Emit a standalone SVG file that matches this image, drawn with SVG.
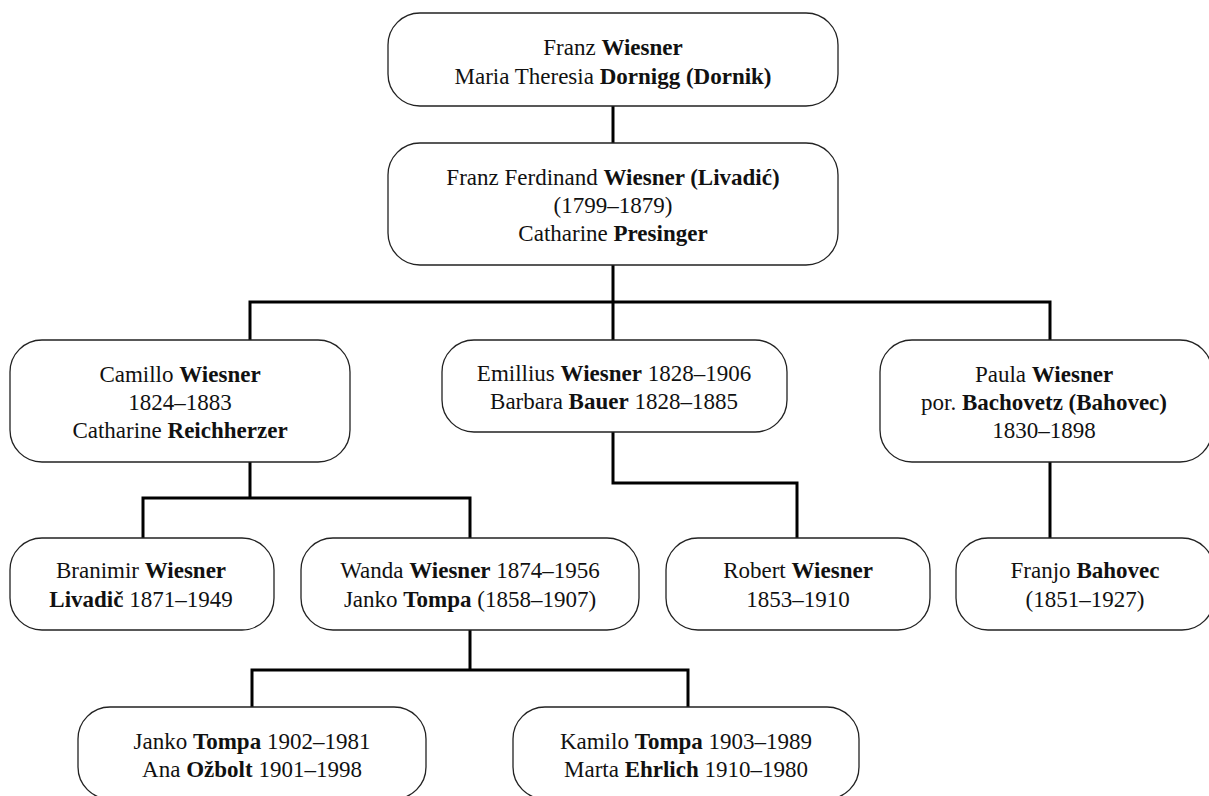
<svg xmlns="http://www.w3.org/2000/svg" width="1209" height="796" viewBox="0 0 1209 796">
<style>
.box{fill:#fff;stroke:#222;stroke-width:1.3}
.t{font-family:"Liberation Serif","Times New Roman",serif;font-size:23px;fill:#111;text-anchor:middle}
.b{font-weight:bold}
.c{fill:none;stroke:#000;stroke-width:3;stroke-linejoin:miter;stroke-linecap:square}
</style>
<rect width="1209" height="796" fill="#fff"/>
<g id="connectors">
<path class="c" d="M613,107V142"/>
<path class="c" d="M613,266V302M250,302H1050M250,302V339M613,302V339M1050,302V339"/>
<path class="c" d="M250,463V498M143,498H470M143,498V537M470,498V537"/>
<path class="c" d="M613,433V483H797V537"/>
<path class="c" d="M1050,463V537"/>
<path class="c" d="M470,631V670M252,670H688M252,670V706M688,670V706"/>
</g>
<g id="n-franz">
<rect class="box" x="388" y="13" width="450" height="93" rx="32"/>
<text class="t" x="613" y="55">Franz <tspan class="b">Wiesner</tspan></text>
<text class="t" x="613" y="84">Maria Theresia <tspan class="b">Dornigg (Dornik)</tspan></text>
</g>
<g id="n-franzferdinand">
<rect class="box" x="388" y="143" width="450" height="122" rx="32"/>
<text class="t" x="613" y="185">Franz Ferdinand <tspan class="b">Wiesner (Livadić)</tspan></text>
<text class="t" x="613" y="213">(1799–1879)</text>
<text class="t" x="613" y="241">Catharine <tspan class="b">Presinger</tspan></text>
</g>
<g id="n-camillo">
<rect class="box" x="10" y="340" width="340" height="122" rx="32"/>
<text class="t" x="180" y="382">Camillo <tspan class="b">Wiesner</tspan></text>
<text class="t" x="180" y="410">1824–1883</text>
<text class="t" x="180" y="438">Catharine <tspan class="b">Reichherzer</tspan></text>
</g>
<g id="n-emillius">
<rect class="box" x="442" y="340" width="345" height="92" rx="32"/>
<text class="t" x="614" y="381">Emillius <tspan class="b">Wiesner</tspan> 1828–1906</text>
<text class="t" x="614" y="409">Barbara <tspan class="b">Bauer</tspan> 1828–1885</text>
</g>
<g id="n-paula">
<rect class="box" x="880" y="340" width="332" height="122" rx="32"/>
<text class="t" x="1044" y="382">Paula <tspan class="b">Wiesner</tspan></text>
<text class="t" x="1044" y="410">por. <tspan class="b">Bachovetz (Bahovec)</tspan></text>
<text class="t" x="1044" y="438">1830–1898</text>
</g>
<g id="n-branimir">
<rect class="box" x="10" y="538" width="264" height="92" rx="32"/>
<text class="t" x="141" y="578">Branimir <tspan class="b">Wiesner</tspan></text>
<text class="t" x="141" y="607"><tspan class="b">Livadič</tspan> 1871–1949</text>
</g>
<g id="n-wanda">
<rect class="box" x="301" y="538" width="338" height="92" rx="32"/>
<text class="t" x="470" y="578">Wanda <tspan class="b">Wiesner</tspan> 1874–1956</text>
<text class="t" x="470" y="607">Janko <tspan class="b">Tompa</tspan> (1858–1907)</text>
</g>
<g id="n-robert">
<rect class="box" x="666" y="538" width="264" height="92" rx="32"/>
<text class="t" x="798" y="578">Robert <tspan class="b">Wiesner</tspan></text>
<text class="t" x="798" y="607">1853–1910</text>
</g>
<g id="n-franjo">
<rect class="box" x="956" y="538" width="258" height="92" rx="32"/>
<text class="t" x="1085" y="578">Franjo <tspan class="b">Bahovec</tspan></text>
<text class="t" x="1085" y="607">(1851–1927)</text>
</g>
<g id="n-janko">
<rect class="box" x="78" y="707" width="348" height="92" rx="32"/>
<text class="t" x="252" y="749">Janko <tspan class="b">Tompa</tspan> 1902–1981</text>
<text class="t" x="252" y="777">Ana <tspan class="b">Ožbolt</tspan> 1901–1998</text>
</g>
<g id="n-kamilo">
<rect class="box" x="513" y="707" width="346" height="92" rx="32"/>
<text class="t" x="686" y="749">Kamilo <tspan class="b">Tompa</tspan> 1903–1989</text>
<text class="t" x="686" y="777">Marta <tspan class="b">Ehrlich</tspan> 1910–1980</text>
</g>
</svg>
